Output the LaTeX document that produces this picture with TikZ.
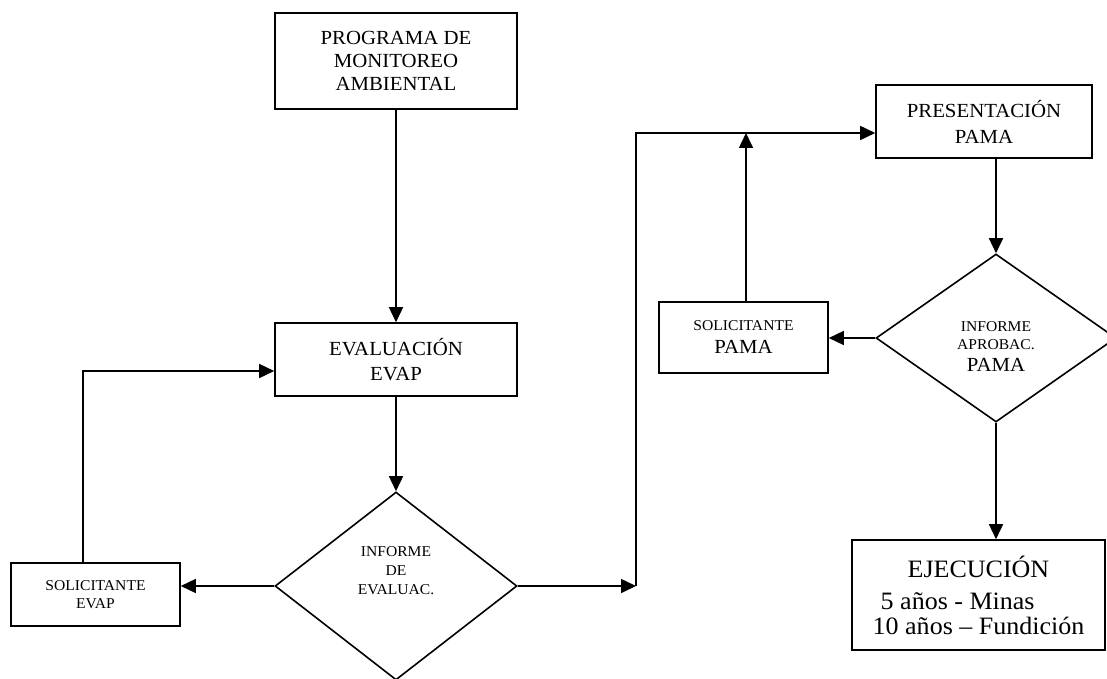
\documentclass[tikz,border=0pt]{standalone}
\usepackage{fontspec}
\setmainfont{Liberation Serif}[FakeStretch=1.04]
\usetikzlibrary{shapes.geometric,arrows.meta}
\tikzset{
  box/.style={draw,line width=1.6pt,rectangle,inner sep=0pt,align=center},
  dia/.style={draw,line width=1.6pt,diamond,inner sep=0pt},
  arr/.style={line width=1.6pt,-{Triangle[length=15pt,width=14pt]}}
}
\begin{document}
\begin{tikzpicture}[x=1pt,y=-1pt]
\useasboundingbox (0,0) rectangle (1107,679);
% nodes
\node[box,minimum width=242pt,minimum height=96pt,font=\fontsize{20}{23}\selectfont] (pma) at (396,61) {PROGRAMA DE\\MONITOREO\\AMBIENTAL};
\node[box,minimum width=242pt,minimum height=73pt,font=\fontsize{20}{25}\selectfont] (evap) at (396,359.5) {EVALUACIÓN\\EVAP};
\node[box,minimum width=169pt,minimum height=63pt,font=\fontsize{15}{18.5}\selectfont] (solevap) at (95.5,594.5) {SOLICITANTE\\EVAP};
\node[dia,minimum width=242pt,minimum height=188pt] (d1) at (396,586)
  {\raisebox{14pt}[\height][\depth]{\fontsize{15}{19}\selectfont\begin{tabular}{@{}c@{}}INFORME\\DE\\EVALUAC.\end{tabular}}};
\node[box,minimum width=216pt,minimum height=73pt,font=\fontsize{20}{26}\selectfont] (pres) at (984,121.5) {PRESENTACIÓN\\PAMA};
\node[box,minimum width=169pt,minimum height=71pt,font=\fontsize{15}{23}\selectfont] (solpama) at (743.5,337.5) {SOLICITANTE\\{\fontsize{20}{23}\selectfont PAMA}};
\node[dia,minimum width=240pt,minimum height=168pt] (d2) at (996,338)
  {\raisebox{-10pt}[\height][\depth]{\fontsize{15}{18}\selectfont\begin{tabular}{@{}c@{}}INFORME\\APROBAC.\\[3pt]{\fontsize{20}{23}\selectfont PAMA}\end{tabular}}};
\node[box,minimum width=253pt,minimum height=110pt,align=left,font=\fontsize{25}{25}\selectfont] (ejec) at (978.5,595)
  {\hspace*{35pt}EJECUCIÓN\\[7pt]\hspace*{8pt}5 años - Minas\\10 años – Fundición};
% helper coordinates
\coordinate (l1) at (83,371);
\coordinate (c1) at (636,586);
\coordinate (c2) at (636,133);
\coordinate (c3) at (746,133);
% connectors
\draw[arr] (pma.south) -- (evap.north);
\draw[arr] (evap.south) -- (d1.north);
\draw[arr] (d1.west) -- (d1.west -| solevap.east);
\draw[arr] (l1 |- solevap.north) -- (l1) -- (l1 -| evap.west);
\draw[arr] (d1.east) -- (c1);
\draw[arr] (c1) -- (c2) -- (c2 -| pres.west);
\draw[arr] (c3 |- solpama.north) -- (c3);
\draw[arr] (d2.west) -- (d2.west -| solpama.east);
\draw[arr] (d2.north |- pres.south) -- (d2.north);
\draw[arr] (d2.south) -- (d2.south |- ejec.north);
\end{tikzpicture}
\end{document}
